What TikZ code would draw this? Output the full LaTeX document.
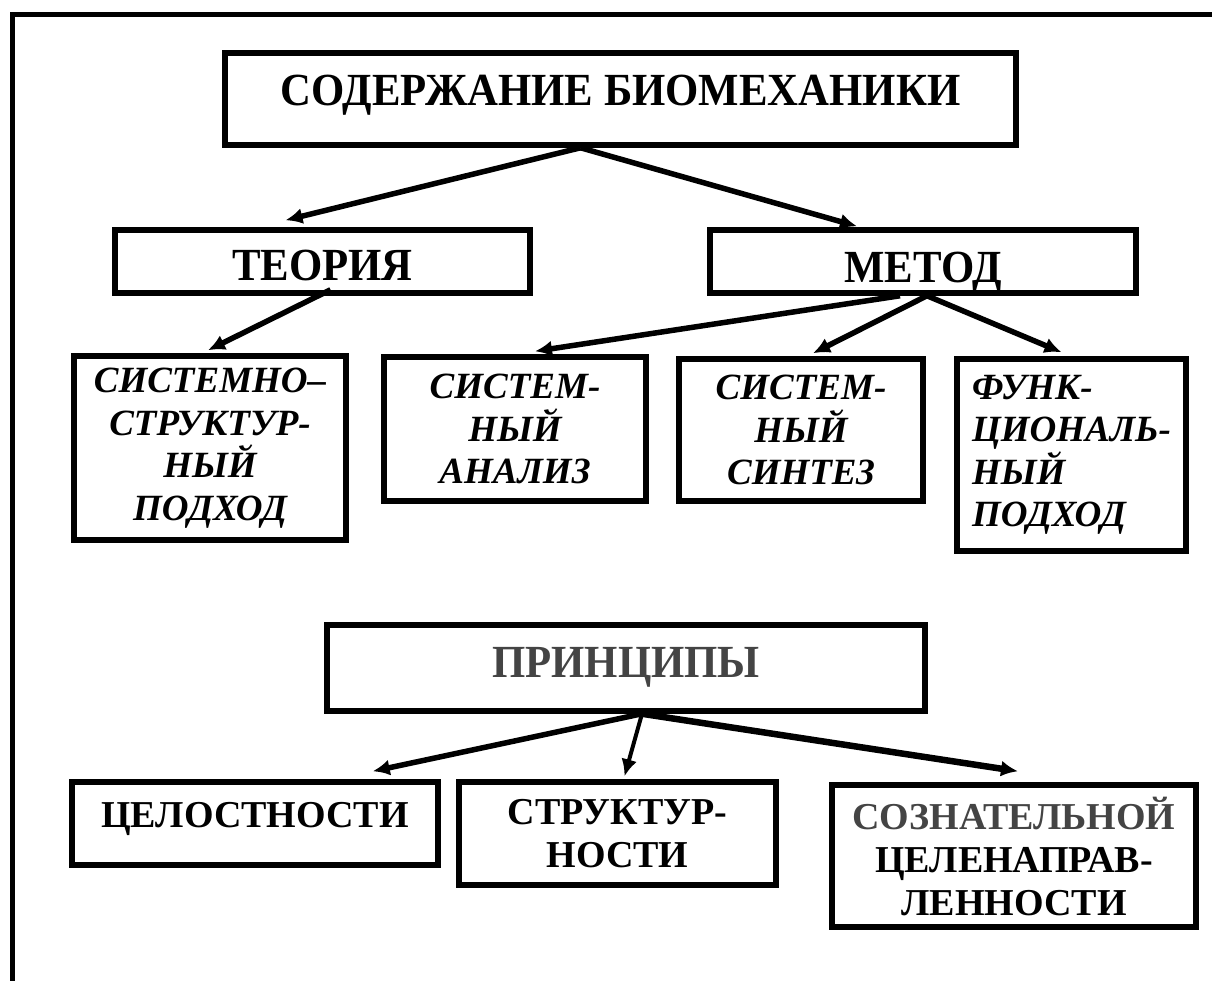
\documentclass[tikz,border=0pt]{standalone}
\usepackage{fontspec}
\setmainfont{Liberation Serif}
\newfontfamily\headfont[FakeStretch=0.93]{Liberation Serif}
\usetikzlibrary{arrows.meta}
\definecolor{txtgray}{HTML}{444444}

\begin{document}
\begin{tikzpicture}[
  x=1pt, y=-1pt,
  hbox/.style={draw, line width=5.5pt, inner sep=0pt, align=center,
               font=\headfont\fontsize{46pt}{50pt}\selectfont\bfseries},
  ibox/.style={draw, line width=5.5pt, inner sep=0pt, align=center,
               font=\fontsize{37pt}{42.5pt}\selectfont\bfseries\itshape},
  pbox/.style={draw, line width=5.5pt, inner sep=0pt, align=center,
               font=\fontsize{38pt}{43pt}\selectfont\bfseries},
  fl/.style={-{Latex[length=17pt,width=16pt]}, line width=5.5pt}
]
\useasboundingbox (0,0) rectangle (1212,980);

% ---------- frame ----------
\draw[line width=5pt] (1214,14) -- (12,14) -- (12,982);

% ---------- content ----------
\node[hbox, minimum width=791pt, text height=52pt, text depth=40pt] (top) at (620.5,99) {СОДЕРЖАНИЕ БИОМЕХАНИКИ};
\node[hbox, minimum width=415pt, text height=50pt, text depth=13pt] (teo) at (322.5,261.5) {ТЕОРИЯ};
\node[hbox, minimum width=426pt, text height=52pt, text depth=11pt] (met) at (923,261.5) {МЕТОД};
\draw[fl] ([xshift=-40pt]top.south) -- ([xshift=-37pt,yshift=7pt]teo.north);
\draw[fl] ([xshift=-40pt]top.south) -- ([xshift=-66pt,yshift=1pt]met.north);

% ---------- theory and method ----------
\node[ibox, minimum width=272pt, minimum height=184pt] (ssp) at (210,448) {СИСТЕМНО–\\СТРУКТУР-\\НЫЙ\\ПОДХОД};
\node[ibox, minimum width=262pt, minimum height=144pt] (san) at (515,429) {СИСТЕМ-\\НЫЙ\\АНАЛИЗ};
\node[ibox, minimum width=244pt, minimum height=142pt] (ssn) at (801,430) {СИСТЕМ-\\НЫЙ\\СИНТЕЗ};
\node[ibox, minimum width=229pt, minimum height=192pt, align=left] (fun) at (1071.5,455) {ФУНК-\\ЦИОНАЛЬ-\\НЫЙ\\ПОДХОД};
\draw[fl] ([xshift=8pt,yshift=6pt]teo.south) -- ([xshift=-2pt,yshift=3pt]ssp.north);
\draw[fl] ([xshift=-23pt]met.south) -- ([xshift=20pt,yshift=3pt]san.north);
\draw[fl] ([xshift=4pt]met.south) -- ([xshift=12pt,yshift=3pt]ssn.north);
\draw[fl] ([xshift=4pt]met.south) -- ([xshift=-10pt,yshift=4pt]fun.north);

% ---------- principles ----------
\node[hbox, minimum width=598pt, text height=52pt, text depth=34pt, text=txtgray] (pri) at (626,668) {ПРИНЦИПЫ};
\node[pbox, minimum width=366pt, text height=45pt, text depth=38pt] (cel) at (255,823.5) {ЦЕЛОСТНОСТИ};
\node[pbox, minimum width=317pt, minimum height=103pt] (str) at (617.5,833.5) {СТРУКТУР-\\НОСТИ};
\node[pbox, minimum width=364pt, minimum height=142pt] (soz) at (1014,856) {\textcolor{txtgray}{СОЗНАТЕЛЬНОЙ}\\ЦЕЛЕНАПРАВ-\\ЛЕННОСТИ};
\draw[fl] ([xshift=16pt]pri.south) -- ([xshift=-68pt,yshift=8pt]cel.north east);
\draw[fl, line width=4pt] ([xshift=16pt]pri.south) -- ([xshift=7pt,yshift=3pt]str.north);
\draw[fl, line width=6.5pt] ([xshift=16pt]pri.south) -- ([xshift=4pt,yshift=11pt]soz.north);

\end{tikzpicture}
\end{document}
